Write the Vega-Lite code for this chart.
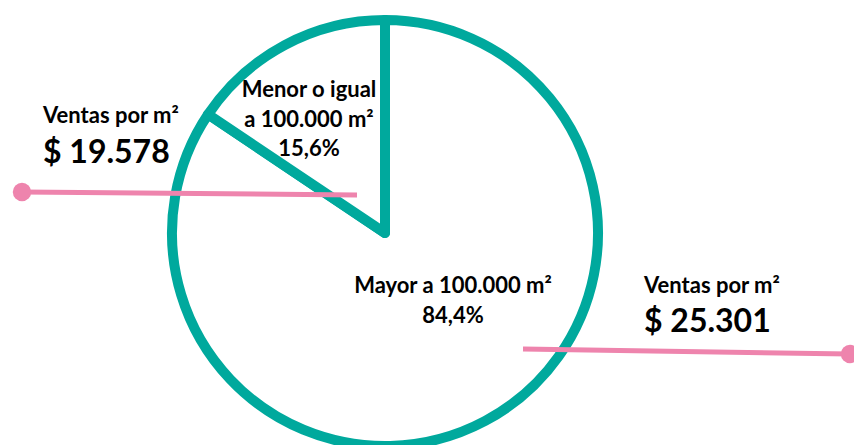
{
  "$schema": "https://vega.github.io/schema/vega-lite/v6.json",
  "width": 854,
  "height": 445,
  "autosize": "none",
  "padding": 0,
  "background": "white",
  "config": {"view": {"stroke": null}},
  "datasets": {
    "slices": [
      {"segmento": "Mayor a 100.000 m²", "pct": 84.4, "orden": 1},
      {"segmento": "Menor o igual a 100.000 m²", "pct": 15.6, "orden": 2}
    ],
    "lines": [
      {"x1": 22, "y1": 192, "x2": 357, "y2": 195},
      {"x1": 523, "y1": 349, "x2": 850, "y2": 354}
    ],
    "dots": [
      {"x": 22, "y": 192},
      {"x": 850, "y": 354}
    ],
    "small": [
      {"x": 43, "y": 123, "t": "Ventas por m²"},
      {"x": 644, "y": 293, "t": "Ventas por m²"}
    ],
    "big": [
      {"x": 43, "y": 163, "t": "$ 19.578"},
      {"x": 644, "y": 332, "t": "$ 25.301"}
    ],
    "center": [
      {"x": 309, "y": 97, "t": "Menor o igual\na 100.000 m²\n15,6%"},
      {"x": 453, "y": 293, "t": "Mayor a 100.000 m²\n84,4%"}
    ]
  },
  "layer": [
    {
      "data": {"name": "slices"},
      "mark": {"type": "arc", "radius": 213, "fill": "white", "stroke": "#00A99D", "strokeWidth": 10, "strokeJoin": "round"},
      "encoding": {
        "theta": {"field": "pct", "type": "quantitative", "stack": true},
        "order": {"field": "orden", "type": "quantitative"},
        "x": {"datum": 385, "type": "quantitative", "scale": {"domain": [0, 854], "nice": false, "zero": false}, "axis": null},
        "y": {"datum": 233, "type": "quantitative", "scale": {"domain": [0, 445], "reverse": true, "nice": false, "zero": false}, "axis": null}
      }
    },
    {
      "data": {"name": "lines"},
      "mark": {"type": "rule", "stroke": "#EE84AD", "strokeWidth": 5},
      "encoding": {
        "x": {"field": "x1", "type": "quantitative"},
        "y": {"field": "y1", "type": "quantitative"},
        "x2": {"field": "x2"},
        "y2": {"field": "y2"}
      }
    },
    {
      "data": {"name": "dots"},
      "mark": {"type": "point", "shape": "circle", "filled": true, "opacity": 1, "color": "#EE84AD", "size": 340},
      "encoding": {
        "x": {"field": "x", "type": "quantitative"},
        "y": {"field": "y", "type": "quantitative"}
      }
    },
    {
      "data": {"name": "small"},
      "mark": {"type": "text", "font": "Lato", "fontWeight": "bold", "fontSize": 22, "align": "left", "baseline": "alphabetic", "color": "black"},
      "encoding": {
        "x": {"field": "x", "type": "quantitative"},
        "y": {"field": "y", "type": "quantitative"},
        "text": {"field": "t"}
      }
    },
    {
      "data": {"name": "big"},
      "mark": {"type": "text", "font": "Lato", "fontWeight": "bold", "fontSize": 32, "align": "left", "baseline": "alphabetic", "color": "black"},
      "encoding": {
        "x": {"field": "x", "type": "quantitative"},
        "y": {"field": "y", "type": "quantitative"},
        "text": {"field": "t"}
      }
    },
    {
      "data": {"name": "center"},
      "mark": {"type": "text", "font": "Lato", "fontWeight": "bold", "fontSize": 22, "align": "center", "baseline": "alphabetic", "lineBreak": "\n", "lineHeight": 29.5, "color": "black"},
      "encoding": {
        "x": {"field": "x", "type": "quantitative"},
        "y": {"field": "y", "type": "quantitative"},
        "text": {"field": "t"}
      }
    }
  ]
}
